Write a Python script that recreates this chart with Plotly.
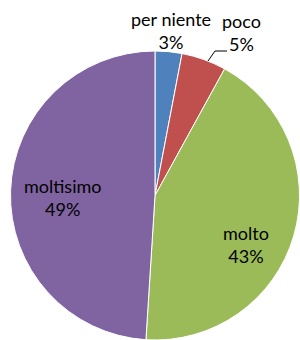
import plotly.graph_objects as go

labels = ["per niente", "poco", "molto", "moltisimo"]
values = [3, 5, 43, 49]
colors = ["#4F81BD", "#C0504D", "#9BBB59", "#8064A2"]
pct_text = ["3%", "5%", "43%", "49%"]

W, H = 300, 340

fig = go.Figure(go.Pie(
    labels=labels, values=values, sort=False, direction="clockwise", rotation=0,
    marker=dict(colors=colors, line=dict(color="white", width=1)),
    textinfo="none", hoverinfo="label+percent", showlegend=False,
    domain=dict(x=[10/W, 1.0], y=[0.0, 289/H]),
))

# label positions (pixels from top-left)
label_pos = [(171, 30), (241, 32), (246, 244), (62, 197)]
for lab, pt, (px, py) in zip(labels, pct_text, label_pos):
    fig.add_annotation(x=px/W, y=1-py/H, xref="paper", yref="paper",
                       text=f"{lab}<br>{pt}", showarrow=False,
                       xanchor="center", yanchor="middle",
                       font=dict(family="Lato, Carlito, sans-serif", size=18, color="#000"))

# leader line for "poco"
pts = [(208, 61), (215, 51), (227, 51)]
path = "M " + " L ".join(f"{x/W},{1-y/H}" for x, y in pts)
fig.add_shape(type="path", path=path, xref="paper", yref="paper",
              line=dict(color="black", width=1))

fig.update_layout(width=W, height=H, margin=dict(l=0, r=0, t=0, b=0),
                  paper_bgcolor="white", plot_bgcolor="white")
fig.write_html("out.html", config={"displayModeBar": False},
               post_script="document.body.style.margin='0';document.body.style.overflow='hidden';")
